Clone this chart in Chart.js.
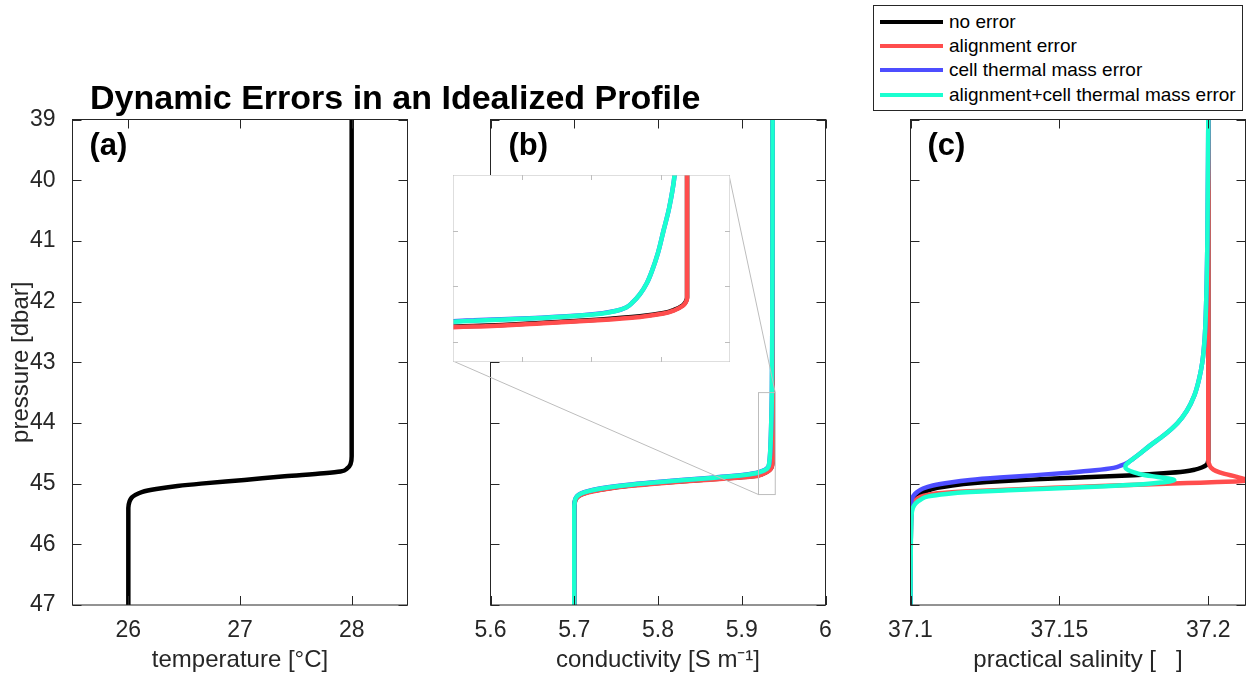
<!DOCTYPE html>
<html>
<head>
<meta charset="utf-8">
<script src="https://cdn.jsdelivr.net/npm/chart.js@4.4.0/dist/chart.umd.min.js"></script>
<style>
  body { margin: 0; background: #fff; font-family: "Liberation Sans", Arial, sans-serif; }
  #fig { position: relative; width: 1249px; height: 675px; overflow: hidden; }
  #fig canvas { position: absolute; left: 0; top: 0; }
  .txt { position: absolute; color: #000; white-space: nowrap; }
  #title { left: 90px; top: 80px; font-weight: bold; font-size: 34px; line-height: 34px; }
  .plabel { top: 129px; font-weight: bold; font-size: 31px; line-height: 31px; }
  #legend { position: absolute; left: 873px; top: 5px; width: 370px; height: 106px;
            border: 1px solid #262626; box-sizing: border-box; background: #fff; }
  .litem { position: absolute; left: 6px; height: 24px; display: flex; align-items: center; }
  .litem .swatch { width: 63px; height: 4px; margin-right: 6px; }
  .litem .ltext { font-size: 19px; color: #000; }
</style>
</head>
<body>
<div id="fig">
  <canvas id="tempChart" width="1249" height="675"></canvas>
  <canvas id="condChart" width="1249" height="675"></canvas>
  <canvas id="salChart" width="1249" height="675"></canvas>
  <canvas id="insetChart"></canvas>
  <div class="txt" id="title">Dynamic Errors in an Idealized Profile</div>
  <div class="txt plabel" id="labelA">(a)</div>
  <div class="txt plabel" id="labelB">(b)</div>
  <div class="txt plabel" id="labelC">(c)</div>
  <div id="legend"></div>
</div>
<script>
// ---- data ----
const pressureTicks = [39, 40, 41, 42, 43, 44, 45, 46, 47];
const tempTicks = [26, 27, 28];
const condTicks = [5.6, 5.7, 5.8, 5.9, 6];
const salTicks = [37.1, 37.15, 37.2];
const insetCondTicks = [5.925, 5.93, 5.935];
const insetPressTicks = [44, 44.5, 45];
const insetCondRange = [5.92, 5.94];
const insetPressRange = [43.5, 45.18];

const seriesLabels = ['no error', 'alignment error', 'cell thermal mass error', 'alignment+cell thermal mass error'];
const seriesColors = ['#000000', '#ff4d4d', '#4d4dff', '#1affd0'];

// (a) temperature
const tempP       = [39, 44.55, 44.68, 44.75, 44.80, 44.83, 44.88, 44.94, 45.00, 45.04, 45.09, 45.14, 45.19, 45.23, 45.30, 45.40, 47];
const tempNoError = [28, 28.0, 27.99, 27.96, 27.90, 27.75, 27.40, 27.04, 26.65, 26.44, 26.25, 26.12, 26.06, 26.03, 26.01, 26.0, 26.0];

// (b) conductivity
const condNoErrorP = [39, 44.60, 44.64, 44.67, 44.71, 44.74, 44.77, 44.80, 44.83, 44.855, 44.875, 44.90, 44.93, 44.96, 45.00, 45.04, 45.08, 45.12, 45.16, 45.20, 45.25, 45.32, 45.45, 47];
const condNoError  = [5.9369, 5.9369, 5.9368, 5.9366, 5.9360, 5.9352, 5.9335, 5.9304, 5.9262, 5.9220, 5.9150, 5.8950, 5.8620, 5.8290, 5.7920, 5.7620, 5.7400, 5.7230, 5.7120, 5.7055, 5.7020, 5.7005, 5.7000, 5.7000];
const condAlignP   = [39, 44.61, 44.645, 44.675, 44.715, 44.745, 44.775, 44.805, 44.835, 44.86, 44.88, 44.905, 44.935, 44.965, 45.005, 45.045, 45.085, 45.125, 45.165, 45.205, 45.255, 45.325, 45.455, 47];
const condAlign    = [5.9369, 5.9369, 5.9368, 5.9366, 5.9360, 5.9352, 5.9335, 5.9304, 5.9262, 5.9220, 5.9150, 5.8950, 5.8620, 5.8290, 5.7920, 5.7620, 5.7400, 5.7230, 5.7120, 5.7055, 5.7020, 5.7005, 5.7000, 5.7000];
const condCtmP     = [39, 41, 42.5, 43.5, 43.8, 44.0, 44.2, 44.35, 44.47, 44.57, 44.64, 44.69, 44.72, 44.741, 44.766, 44.786, 44.806, 44.826, 44.846, 44.876, 44.906, 44.941, 44.981, 45.021, 45.061, 45.101, 45.141, 45.181, 45.231, 45.301, 45.43, 47];
const condCtm      = [5.9368, 5.9367, 5.9364, 5.9360, 5.9356, 5.9352, 5.9348, 5.9344, 5.9340, 5.9335, 5.9330, 5.9325, 5.9318, 5.9308, 5.9285, 5.9255, 5.9215, 5.9170, 5.9080, 5.8880, 5.8600, 5.8280, 5.7920, 5.7620, 5.7400, 5.7230, 5.7120, 5.7055, 5.7020, 5.7005, 5.7000, 5.7000];
const condBothP    = [39, 41, 42.5, 43.5, 43.8, 44.0, 44.2, 44.35, 44.47, 44.57, 44.64, 44.69, 44.72, 44.745, 44.77, 44.79, 44.81, 44.83, 44.85, 44.88, 44.91, 44.945, 44.985, 45.025, 45.065, 45.105, 45.145, 45.185, 45.235, 45.305, 45.44, 47];
const condBoth     = [5.9368, 5.9367, 5.9364, 5.9360, 5.9356, 5.9352, 5.9348, 5.9344, 5.9340, 5.9335, 5.9330, 5.9325, 5.9318, 5.9308, 5.9285, 5.9255, 5.9215, 5.9170, 5.9080, 5.8880, 5.8600, 5.8280, 5.7920, 5.7620, 5.7400, 5.7230, 5.7120, 5.7055, 5.7020, 5.7005, 5.7000, 5.7000];

// (c) practical salinity
const salNoErrorP = [39, 44.60, 44.66, 44.70, 44.73, 44.77, 44.80, 44.83, 44.86, 44.90, 44.93, 44.96, 44.99, 45.03, 45.07, 45.12, 45.18, 45.25, 45.33, 47];
const salNoError  = [37.2, 37.2, 37.1998, 37.1992, 37.1980, 37.1955, 37.1920, 37.1850, 37.1750, 37.1570, 37.1420, 37.1300, 37.1215, 37.1140, 37.1090, 37.1055, 37.1030, 37.1012, 37.1003, 37.1];
const salAlignP   = [39, 44.62, 44.68, 44.74, 44.79, 44.84, 44.88, 44.92, 44.945, 44.96, 44.975, 44.99, 45.01, 45.04, 45.07, 45.10, 45.13, 45.16, 45.20, 45.25, 45.32, 45.45, 47];
const salAlign    = [37.2, 37.2, 37.2003, 37.2010, 37.2025, 37.2055, 37.2090, 37.2120, 37.2128, 37.2105, 37.2030, 37.1930, 37.1810, 37.1640, 37.1480, 37.1320, 37.1180, 37.1090, 37.1045, 37.1022, 37.1008, 37.1001, 37.1];
const salCtmP     = [39, 41, 42, 42.6, 43, 43.3, 43.55, 43.8, 44.0, 44.2, 44.37, 44.5, 44.6, 44.66, 44.70, 44.74, 44.78, 44.82, 44.86, 44.90, 44.94, 44.98, 45.03, 45.08, 45.14, 45.20, 45.28, 47];
const salCtm      = [37.2, 37.1997, 37.1993, 37.1988, 37.1980, 37.1968, 37.1953, 37.1928, 37.1897, 37.1852, 37.1805, 37.1772, 37.1745, 37.1727, 37.1708, 37.1682, 37.1620, 37.1530, 37.1420, 37.1300, 37.1200, 37.1134, 37.1075, 37.1042, 37.1022, 37.1010, 37.1003, 37.1];
const salBothP    = [39, 41, 42, 42.6, 43, 43.3, 43.55, 43.8, 44.0, 44.2, 44.37, 44.5, 44.6, 44.66, 44.70, 44.74, 44.78, 44.81, 44.85, 44.89, 44.925, 44.945, 44.965, 44.99, 45.02, 45.05, 45.08, 45.11, 45.14, 45.17, 45.21, 45.26, 45.32, 45.40, 45.55, 47];
const salBoth     = [37.2, 37.1997, 37.1993, 37.1988, 37.1980, 37.1968, 37.1953, 37.1928, 37.1897, 37.1852, 37.1805, 37.1772, 37.1745, 37.1730, 37.1722, 37.1722, 37.1732, 37.1748, 37.1775, 37.1830, 37.1878, 37.1886, 37.1870, 37.1825, 37.1750, 37.1620, 37.1480, 37.1330, 37.1200, 37.1120, 37.1060, 37.1035, 37.1018, 37.1008, 37.1003, 37.1];

// ---- layout ----
const W = 1249, H = 675;
const plotTop = 119.5, plotBottom = 605;
const panelA = { left: 72.5, right: 407.5 };
const panelB = { left: 490.5, right: 825.5 };
const panelC = { left: 910.5, right: 1245.5 };
const insetBox = { left: 453, top: 175, width: 276, height: 186 };
const axisColor = '#262626';
const tickFont = { family: '"Liberation Sans", Arial, sans-serif', size: 23 };
const titleFont = { family: '"Liberation Sans", Arial, sans-serif', size: 24 };

const pts = (xs, ps) => xs.map((v, i) => ({ x: v, y: ps[i] }));

function lineSet(idx, xs, ps) {
    return {
        label: seriesLabels[idx],
        data: pts(xs, ps),
        borderColor: seriesColors[idx],
        backgroundColor: seriesColors[idx],
        order: 4 - idx   // cyan ends up on top, like the original
    };
}

// frame with inward tick marks on all four sides
const frameTicks = {
    id: 'frameTicks',
    afterDatasetsDraw(chart, args, opts) {
        const { ctx, chartArea: a, scales: { x, y } } = chart;
        const len = opts.len;
        ctx.save();
        ctx.strokeStyle = opts.color;
        ctx.lineWidth = 1;
        ctx.beginPath();
        opts.xTicks.forEach(v => {
            const px = Math.round(x.getPixelForValue(v)) + 0.5;
            ctx.moveTo(px, a.bottom); ctx.lineTo(px, a.bottom - len);
            ctx.moveTo(px, a.top); ctx.lineTo(px, a.top + len);
        });
        opts.yTicks.forEach(v => {
            const py = Math.round(y.getPixelForValue(v)) + 0.5;
            ctx.moveTo(a.left, py); ctx.lineTo(a.left + len, py);
            ctx.moveTo(a.right, py); ctx.lineTo(a.right - len, py);
        });
        ctx.stroke();
        ctx.strokeRect(a.left, a.top, a.right - a.left, a.bottom - a.top);
        ctx.restore();
    }
};

// white background for the inset
const whiteBg = {
    id: 'whiteBg',
    beforeDraw(chart) {
        const ctx = chart.ctx;
        ctx.save();
        ctx.fillStyle = '#fff';
        ctx.fillRect(0, 0, chart.width, chart.height);
        ctx.restore();
    }
};

// zoom rectangle + connector lines in panel (b)
const zoomBox = {
    id: 'zoomBox',
    afterDatasetsDraw(chart) {
        const { ctx, scales: { x, y } } = chart;
        const x0 = x.getPixelForValue(insetCondRange[0]), x1 = x.getPixelForValue(insetCondRange[1]);
        const y0 = y.getPixelForValue(insetPressRange[0]), y1 = y.getPixelForValue(insetPressRange[1]);
        ctx.save();
        ctx.strokeStyle = '#bdbdbd';
        ctx.lineWidth = 1;
        ctx.strokeRect(x0, y0, x1 - x0, y1 - y0);
        ctx.beginPath();
        ctx.moveTo(insetBox.left + insetBox.width, insetBox.top);
        ctx.lineTo(x1, y0);
        ctx.moveTo(insetBox.left, insetBox.top + insetBox.height);
        ctx.lineTo(x0, y1);
        ctx.stroke();
        ctx.restore();
    }
};

function makePanel(id, panel, xMin, xMax, xTicks, xTitle, datasets, showY, extraPlugins) {
    return new Chart(document.getElementById(id), {
        type: 'line',
        data: { datasets },
        options: {
            responsive: false,
            animation: false,
            indexAxis: 'y',
            layout: { padding: { left: showY ? 0 : panel.left, top: plotTop, right: W - panel.right, bottom: 0 } },
            elements: {
                point: { radius: 0 },
                line: { borderWidth: 4.5, cubicInterpolationMode: 'monotone', borderCapStyle: 'butt', fill: false }
            },
            plugins: {
                legend: { display: false },
                tooltip: { enabled: false },
                frameTicks: { color: axisColor, len: 9, xTicks: xTicks, yTicks: pressureTicks }
            },
            scales: {
                x: {
                    type: 'linear', position: 'bottom', min: xMin, max: xMax,
                    grid: { display: false }, border: { display: false },
                    afterBuildTicks: s => { s.ticks = xTicks.map(v => ({ value: v })); },
                    afterFit: s => { s.height = H - plotBottom; },
                    ticks: { font: tickFont, color: axisColor, padding: 4, autoSkip: false, maxRotation: 0, callback: v => String(v) },
                    title: { display: true, text: xTitle, font: titleFont, color: axisColor, padding: { top: 7, bottom: 0 } }
                },
                y: {
                    type: 'linear', position: 'left', min: 39, max: 47, reverse: true,
                    display: showY,
                    grid: { display: false }, border: { display: false },
                    afterBuildTicks: s => { s.ticks = pressureTicks.map(v => ({ value: v })); },
                    afterFit: s => { if (showY) s.width = panel.left; },
                    ticks: { font: tickFont, color: axisColor, padding: 9, autoSkip: false, callback: v => String(v) },
                    title: { display: true, text: 'pressure [dbar]', font: titleFont, color: axisColor, padding: { top: 7, bottom: 0 } }
                }
            }
        },
        plugins: [frameTicks].concat(extraPlugins || [])
    });
}

// (a)
makePanel('tempChart', panelA, 25.5, 28.5, tempTicks, 'temperature [\u00B0C]',
    [lineSet(0, tempNoError, tempP)], true);

// (b)
const condSets = () => [
    lineSet(0, condNoError, condNoErrorP),
    lineSet(1, condAlign, condAlignP),
    lineSet(2, condCtm, condCtmP),
    lineSet(3, condBoth, condBothP)
];
makePanel('condChart', panelB, 5.6, 6, condTicks, 'conductivity [S m\u207B\u00B9]', condSets(), false, [zoomBox]);

// (c)
const salChart = makePanel('salChart', panelC, 37.1, 37.2125, salTicks, 'practical salinity [   ]', [
    lineSet(0, salNoError, salNoErrorP),
    lineSet(1, salAlign, salAlignP),
    lineSet(2, salCtm, salCtmP),
    lineSet(3, salBoth, salBothP)
], false);

// inset of (b)
const insetCanvas = document.getElementById('insetChart');
insetCanvas.width = insetBox.width + 1;
insetCanvas.height = insetBox.height + 1;
insetCanvas.style.left = insetBox.left + 'px';
insetCanvas.style.top = insetBox.top + 'px';
new Chart(insetCanvas, {
    type: 'line',
    data: { datasets: condSets() },
    options: {
        responsive: false,
        animation: false,
        indexAxis: 'y',
        layout: { padding: 0 },
        elements: {
            point: { radius: 0 },
            line: { borderWidth: 4.5, cubicInterpolationMode: 'monotone', borderCapStyle: 'butt', fill: false }
        },
        plugins: {
            legend: { display: false },
            tooltip: { enabled: false },
            frameTicks: { color: '#bdbdbd', len: 5, xTicks: insetCondTicks, yTicks: insetPressTicks }
        },
        scales: {
            x: { type: 'linear', display: false, min: insetCondRange[0], max: insetCondRange[1] },
            y: { type: 'linear', display: false, min: insetPressRange[0], max: insetPressRange[1], reverse: true }
        }
    },
    plugins: [whiteBg, frameTicks]
});

// panel letters
document.getElementById('labelA').style.left = (panelA.left + 17) + 'px';
document.getElementById('labelB').style.left = (panelB.left + 18) + 'px';
document.getElementById('labelC').style.left = (panelC.left + 17) + 'px';

// legend built from the (c) datasets
const legend = document.getElementById('legend');
salChart.data.datasets.forEach((ds, i) => {
    const item = document.createElement('div');
    item.className = 'litem';
    item.style.top = (4 + i * 24.2) + 'px';
    const sw = document.createElement('span');
    sw.className = 'swatch';
    sw.style.background = ds.borderColor;
    const tx = document.createElement('span');
    tx.className = 'ltext';
    tx.textContent = ds.label;
    item.appendChild(sw);
    item.appendChild(tx);
    legend.appendChild(item);
});
</script>
</body>
</html>
